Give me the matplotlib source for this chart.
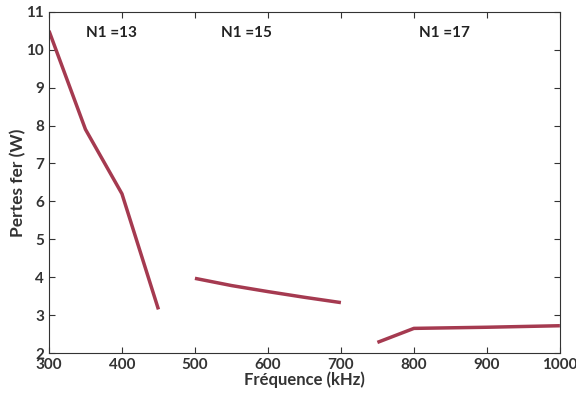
import matplotlib
matplotlib.use("Agg")
import matplotlib.pyplot as plt

plt.rcParams['font.family'] = ['Lato', 'DejaVu Sans']
plt.rcParams['font.weight'] = 'bold'

RED = "#a53a50"

f_13 = [300, 350, 400, 450]
p_13 = [10.5, 7.9, 6.2, 3.15]
f_15 = [500, 550, 600, 650, 700]
p_15 = [3.97, 3.78, 3.62, 3.47, 3.33]
f_17 = [750, 800, 900, 1000]
p_17 = [2.28, 2.65, 2.68, 2.72]
labels = ["N1 =13", "N1 =15", "N1 =17"]
label_x = [386, 571, 842]

fig = plt.figure(figsize=(5.76, 3.94), dpi=100)
ax = fig.add_axes([0.085, 0.104, 0.887, 0.866])
for f, p in [(f_13, p_13), (f_15, p_15), (f_17, p_17)]:
    ax.plot(f, p, color=RED, lw=2.5, solid_capstyle="butt")
for t, x in zip(labels, label_x):
    ax.text(x, 10.45, t, ha="center", va="center", fontsize=11, weight="bold", color="#222")

ax.set_xlim(300, 1000); ax.set_ylim(2, 11)
ax.set_xticks(range(300, 1001, 100)); ax.set_yticks(range(2, 12))
ax.tick_params(direction="in", top=True, right=True, labelsize=11, colors="#333", length=4)
for s in ax.spines.values():
    s.set_color("#333")
ax.set_xlabel("Fréquence (kHz)", fontsize=12, weight="bold", color="#333", labelpad=0)
ax.set_ylabel("Pertes fer (W)", fontsize=12.5, weight="bold", color="#333", labelpad=0)
fig.savefig("out.png", dpi=100)
